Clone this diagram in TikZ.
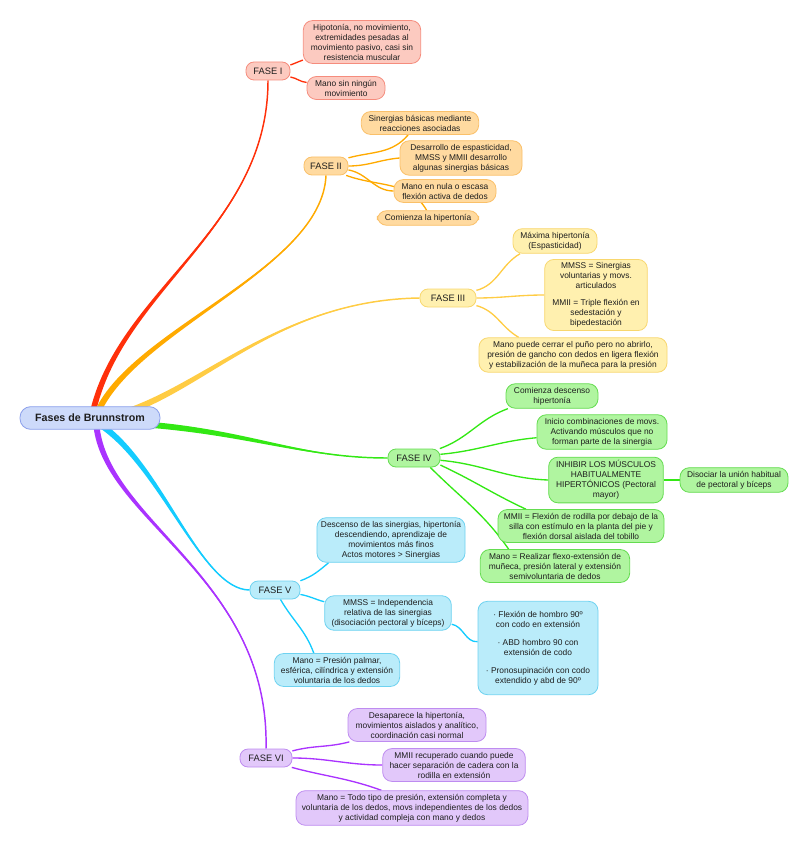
\documentclass[tikz,border=0pt]{standalone}
\usepackage{fontspec}
\setmainfont{Liberation Sans}
\usepackage{xcolor}
\usetikzlibrary{positioning}
\usetikzlibrary{calc}
\usetikzlibrary{backgrounds}

\definecolor{txt}{RGB}{30,30,30}
\definecolor{rootfill}{RGB}{205,218,250}
\definecolor{rootline}{RGB}{140,160,235}
\definecolor{redb}{RGB}{255,48,10}
\definecolor{redfill}{RGB}{252,202,192}
\definecolor{redline}{RGB}{245,140,125}
\definecolor{orab}{RGB}{255,170,0}
\definecolor{orafill}{RGB}{255,218,160}
\definecolor{oraline}{RGB}{250,192,105}
\definecolor{yelb}{RGB}{255,204,68}
\definecolor{yelfill}{RGB}{255,240,175}
\definecolor{yelline}{RGB}{248,215,110}
\definecolor{greb}{RGB}{51,232,20}
\definecolor{grefill}{RGB}{176,245,160}
\definecolor{greline}{RGB}{100,220,80}
\definecolor{cyab}{RGB}{20,204,255}
\definecolor{cyafill}{RGB}{186,236,250}
\definecolor{cyaline}{RGB}{110,210,240}
\definecolor{purb}{RGB}{170,51,255}
\definecolor{purfill}{RGB}{226,200,250}
\definecolor{purline}{RGB}{190,140,240}

% tapered main branch: colour, start, control 1, control 2, end, half width
\newcommand{\branch}[6]{%
  \fill[#1] ($(#2)+(#6)$) .. controls ($(#3)+(#6)$) and (#4) .. (#5)
    .. controls (#4) and ($(#3)-(#6)$) .. ($(#2)-(#6)$) -- cycle;
  \draw[#1, line width=1.1pt] (#2) .. controls (#3) and (#4) .. (#5);}

\tikzset{
  idea/.style={draw, rounded corners=7pt, line width=0.6pt, align=center,
    font=\fontsize{6.3}{7.5}\selectfont, text=txt, inner xsep=3pt, inner ysep=2.5pt},
  fase/.style={idea, rounded corners=6pt, font=\fontsize{7}{8.4}\selectfont,
    minimum height=13.5pt, inner xsep=4pt},
  twig/.style={line width=1pt},
  red idea/.style={fill=redfill, draw=redline},
  ora idea/.style={fill=orafill, draw=oraline},
  yel idea/.style={fill=yelfill, draw=yelline},
  gre idea/.style={fill=grefill, draw=greline},
  cya idea/.style={fill=cyafill, draw=cyaline},
  pur idea/.style={fill=purfill, draw=purline},
}

\begin{document}
\begin{tikzpicture}[x=0.75pt, y=-0.75pt]
  \useasboundingbox (0,0) rectangle (809,848);

  \node (root) [idea, fill=rootfill, draw=rootline, rounded corners=8pt,
    font=\fontsize{8}{9}\selectfont\bfseries, minimum width=105pt, minimum height=17pt]
    at (90,418) {Fases de Brunnstrom};

  % fases
  \node (f1) [fase, red idea, minimum width=33pt] at (268,71) {FASE I};
  \node (f2) [fase, ora idea, minimum width=33pt] at (326,166) {FASE II};
  \node (f3) [fase, yel idea, minimum width=42pt] at (448,298) {FASE III};
  \node (f4) [fase, gre idea, minimum width=39pt] at (414,458) {FASE IV};
  \node (f5) [fase, cya idea, minimum width=37.5pt] at (275,590) {FASE V};
  \node (f6) [fase, pur idea, minimum width=39pt] at (266,758) {FASE VI};

  % fase I
  \node (hipo) [idea, red idea, minimum width=88pt] at (362,42)
    {Hipotonía, no movimiento,\\ extremidades pesadas al\\ movimiento pasivo, casi sin\\ resistencia muscular};
  \node (manoI) [idea, red idea, minimum width=58.5pt] at (346,88)
    {Mano sin ningún\\ movimiento};

  % fase II
  \node (sinerg) [idea, ora idea, minimum width=88pt] at (420,123)
    {Sinergias básicas mediante\\ reacciones asociadas};
  \node (desarr) [idea, ora idea, minimum width=91.5pt] at (461,158)
    {Desarrollo de espasticidad,\\ MMSS y MMII desarrollo\\ algunas sinergias básicas};
  \node (manoII) [idea, ora idea, minimum width=76.5pt] at (445,191)
    {Mano en nula o escasa\\ flexión activa de dedos};
  \node (comien) [idea, ora idea, minimum width=76pt] at (428,218)
    {Comienza la hipertonía};

  % fase III
  \node (maxima) [idea, yel idea, minimum width=63pt] at (555,241)
    {Máxima hipertonía\\ (Espasticidad)};
  \node (mmssIII) [idea, yel idea, minimum width=77pt] at (596,295)
    {MMSS = Sinergias\\ voluntarias y movs.\\ articulados\\[5pt] MMII = Triple flexión en\\ sedestación y\\ bipedestación};
  \node (manoIII) [idea, yel idea, minimum width=141pt] at (573,355)
    {Mano puede cerrar el puño pero no abrirlo,\\ presión de gancho con dedos en ligera flexión\\ y estabilización de la muñeca para la presión};

  % fase IV
  \node (descen) [idea, gre idea, minimum width=69pt] at (552,396)
    {Comienza descenso\\ hipertonía};
  \node (inicio) [idea, gre idea, minimum width=97.5pt] at (602,432)
    {Inicio combinaciones de movs.\\ Activando músculos que no\\ forman parte de la sinergia};
  \node (inhibir) [idea, gre idea, minimum width=86pt] at (606,480)
    {INHIBIR LOS MÚSCULOS\\ HABITUALMENTE\\ HIPERTÓNICOS (Pectoral\\ mayor)};
  \node (disoc) [idea, gre idea, minimum width=81pt] at (734,480)
    {Disociar la unión habitual\\ de pectoral y bíceps};
  \node (mmiiIV) [idea, gre idea, minimum width=124.5pt] at (581,526)
    {MMII = Flexión de rodilla por debajo de la\\ silla con estímulo en la planta del pie y\\ flexión dorsal aislada del tobillo};
  \node (manoIV) [idea, gre idea, minimum width=112pt] at (555,566)
    {Mano = Realizar flexo-extensión de\\ muñeca, presión lateral y extensión\\ semivoluntaria de dedos};

  % fase V
  \node (descV) [idea, cya idea, minimum width=111pt] at (391,540)
    {Descenso de las sinergias, hipertonía\\ descendiendo, aprendizaje de\\ movimientos más finos\\ Actos motores > Sinergias};
  \node (mmssV) [idea, cya idea, minimum width=95pt] at (388,613)
    {MMSS = Independencia\\ relativa de las sinergias\\ (disociación pectoral y bíceps)};
  \node (ejerc) [idea, cya idea, minimum width=90pt, minimum height=70pt] at (538,648)
    {· Flexión de hombro 90º\\ con codo en extensión\\[6pt] · ABD hombro 90 con\\ extensión de codo\\[6pt] · Pronosupinación con codo\\ extendido y abd de 90º};
  \node (manoV) [idea, cya idea, minimum width=94pt] at (337,670)
    {Mano = Presión palmar,\\ esférica, cilíndrica y extensión\\ voluntaria de los dedos};

  % fase VI
  \node (desap) [idea, pur idea, minimum width=103.5pt] at (417,725)
    {Desaparece la hipertonía,\\ movimientos aislados y analítico,\\ coordinación casi normal};
  \node (mmiiVI) [idea, pur idea, minimum width=107pt] at (454,765)
    {MMII recuperado cuando puede\\ hacer separación de cadera con la\\ rodilla en extensión};
  \node (manoVI) [idea, pur idea, minimum width=174pt] at (412,808)
    {Mano = Todo tipo de presión, extensión completa y\\ voluntaria de los dedos, movs independientes de los dedos\\ y actividad compleja con mano y dedos};

  \begin{scope}[on background layer]
    \coordinate (o1) at ($(root.center)+(2,-2)$);
    \coordinate (o2) at ($(root.center)+(6,-2)$);
    \coordinate (o3) at ($(root.center)+(30,-4)$);
    \coordinate (o4) at ($(root.center)+(50,6)$);
    \coordinate (o5) at ($(root.center)+(6,4)$);
    \coordinate (o6) at ($(root.center)+(6,2)$);
    \branch{redb}{o1}{118,290}{268,230}{f1.south}{3,0}
    \branch{orab}{o2}{130,330}{322,270}{f2.south}{2.8,1.2}
    \branch{yelb}{o3}{205,388}{280,300}{f3.west}{0.9,3}
    \branch{greb}{o4}{250,432}{300,458}{f4.west}{0,3}
    \branch{cyab}{o5}{160,460}{200,590}{f5.west}{-1.6,2.6}
    \branch{purb}{o6}{100,520}{270,575}{f6.north}{3,0}

    % fase I
    \draw[twig, redb] (f1.15) to[out=20, in=200] (hipo.197);
    \draw[twig, redb] (f1.-15) to[out=-10, in=175] (manoI.172);
    % fase II
    \draw[twig, orab] (f2.20) to[out=15, in=230] (sinerg.225);
    \draw[twig, orab] (f2.east) to[out=0, in=185] (desarr.west);
    \draw[twig, orab] (f2.-10) to[out=-10, in=180] (manoII.west);
    \draw[twig, orab] (f2.-25) to[out=-20, in=120] (comien.100);
    % fase III
    \draw[twig, yelb] (f3.15) to[out=15, in=210] (maxima.200);
    \draw[twig, yelb] (f3.east) to[out=0, in=180] (mmssIII.west);
    \draw[twig, yelb] (f3.-15) to[out=-15, in=150] (manoIII.162);
    % fase IV
    \draw[twig, greb] (f4.20) to[out=20, in=200] (descen.196);
    \draw[twig, greb] (f4.8) to[out=5, in=185] (inicio.185);
    \draw[twig, greb] (f4.-5) to[out=-5, in=178] (inhibir.west);
    \draw[twig, greb] (f4.-15) to[out=-25, in=155] (mmiiIV.163);
    \draw[twig, greb] (f4.-30) to[out=-45, in=125] (manoIV.160);
    \draw[twig, greb] (inhibir.east) -- (disoc.west);
    % fase V
    \draw[twig, cyab] (f5.20) to[out=20, in=220] (descV.200);
    \draw[twig, cyab] (f5.-10) to[out=-10, in=165] (mmssV.170);
    \draw[twig, cyab] (f5.-60) to[out=-60, in=110] (manoV.144);
    \draw[twig, cyab] (mmssV.-10) to[out=-10, in=185] (ejerc.174);
    % fase VI
    \draw[twig, purb] (f6.15) to[out=15, in=195] (desap.194);
    \draw[twig, purb] (f6.east) to[out=0, in=180] (mmiiVI.west);
    \draw[twig, purb] (f6.-20) to[out=-15, in=160] (manoVI.150);
  \end{scope}
\end{tikzpicture}
\end{document}
